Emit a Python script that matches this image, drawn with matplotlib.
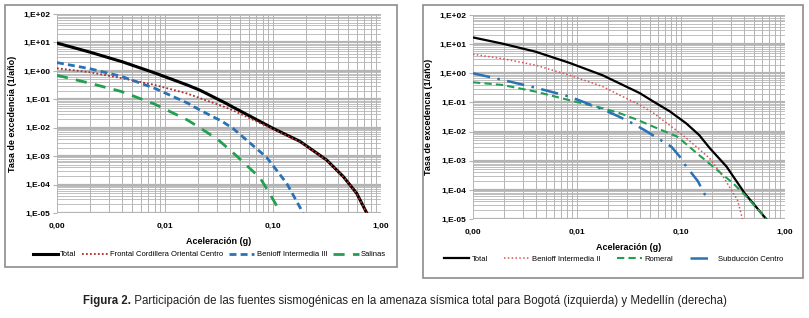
import matplotlib
matplotlib.use("Agg")
import matplotlib.pyplot as plt
from matplotlib.patches import Rectangle
from matplotlib.ticker import FixedLocator, LogLocator, NullFormatter

W, H = 809, 318
DPI = 100

GRID = "#b4b4b4"
BLACK = "#000000"
RED_L = "#b22b2b"
BLUE = "#2a72b8"
GREEN = "#22a050"
RED_R = "#e05050"

plt.rcParams["font.family"] = ["Liberation Sans Narrow", "Liberation Sans", "DejaVu Sans"]

# ── Bogotá (izquierda) ─────────────────────────────────────
bog_total_x = [0.001, 0.002, 0.004, 0.008, 0.016, 0.021, 0.036, 0.043, 0.1, 0.178, 0.314, 0.448, 0.596, 0.738]
bog_total_y = [9.5, 4.6, 2.1, 0.85, 0.32, 0.21, 0.075, 0.052, 0.0095, 0.0033, 7.3e-4, 1.9e-4, 4.9e-5, 1e-5]
bog_frontal_x = [0.001, 0.002, 0.004, 0.008, 0.016, 0.021, 0.036, 0.043, 0.076, 0.1, 0.178, 0.314, 0.448, 0.596, 0.738]
bog_frontal_y = [1.23, 0.9, 0.55, 0.32, 0.16, 0.11, 0.053, 0.04, 0.0145, 0.009, 0.0032, 7.2e-4, 1.88e-4, 4.85e-5, 1e-5]
bog_benioff_x = [0.001, 0.002, 0.004, 0.008, 0.016, 0.021, 0.0335, 0.043, 0.0875, 0.134, 0.19]
bog_benioff_y = [1.95, 1.2, 0.63, 0.245, 0.075, 0.042, 0.017, 0.0092, 9e-4, 1.1e-4, 1e-5]
bog_salinas_x = [0.001, 0.002, 0.004, 0.008, 0.016, 0.021, 0.031, 0.045, 0.076, 0.09, 0.105, 0.116]
bog_salinas_y = [0.7, 0.37, 0.185, 0.068, 0.019, 0.010, 0.0038, 1.1e-3, 1.7e-4, 6e-5, 2.2e-5, 1e-5]

# ── Medellín (derecha) ─────────────────────────────────────
med_total_x = [0.001, 0.0019, 0.004, 0.0084, 0.0177, 0.04, 0.0536, 0.0776, 0.1125, 0.15, 0.189, 0.274, 0.41, 0.66]
med_total_y = [17.0, 10.5, 5.5, 2.3, 0.85, 0.21, 0.11, 0.05, 0.019, 0.0075, 2.7e-3, 6.3e-4, 7.6e-5, 1e-5]
med_benioff_x = [0.001, 0.0019, 0.004, 0.0084, 0.0177, 0.0256, 0.0384, 0.0536, 0.1125, 0.189, 0.26, 0.35, 0.39]
med_benioff_y = [4.5, 3.2, 1.9, 0.87, 0.35, 0.18, 0.089, 0.045, 6e-3, 1.2e-3, 2.5e-4, 4.4e-5, 1e-5]
med_romeral_x = [0.001, 0.0019, 0.004, 0.0084, 0.0177, 0.0256, 0.0384, 0.0536, 0.093, 0.145, 0.203, 0.316, 0.427, 0.66]
med_romeral_y = [0.49, 0.40, 0.235, 0.12, 0.063, 0.043, 0.025, 0.015, 6.6e-3, 1.7e-3, 6.3e-4, 1.7e-4, 5.8e-5, 1e-5]
med_subd_x = [0.001, 0.0019, 0.004, 0.0084, 0.0177, 0.0256, 0.0344, 0.045, 0.0536, 0.081, 0.097, 0.107, 0.145, 0.178]
med_subd_y = [1.0, 0.6, 0.32, 0.16, 0.058, 0.032, 0.019, 0.011, 0.0075, 0.003, 1.4e-3, 8e-4, 2e-4, 5e-5]

x_ticks = [0.001, 0.01, 0.1, 1.0]
x_labels = ["0,00", "0,01", "0,10", "1,00"]
y_ticks = [1e-5, 1e-4, 1e-3, 1e-2, 1e-1, 1e0, 1e1, 1e2]
y_labels = ["1,E-05", "1,E-04", "1,E-03", "1,E-02", "1,E-01", "1,E+00", "1,E+01", "1,E+02"]


def px_axes(fig, x0, y0, x1, y1):
    return fig.add_axes([x0 / W, 1 - y1 / H, (x1 - x0) / W, (y1 - y0) / H])


def style_log(ax):
    ax.set_xscale("log"); ax.set_yscale("log")
    ax.set_xlim(0.001, 1.0); ax.set_ylim(1e-5, 1e2)
    ax.xaxis.set_major_locator(FixedLocator(x_ticks))
    ax.set_xticklabels(x_labels)
    ax.yaxis.set_major_locator(FixedLocator(y_ticks))
    ax.set_yticklabels(y_labels)
    ax.xaxis.set_minor_locator(LogLocator(base=10, subs=range(2, 10)))
    ax.yaxis.set_minor_locator(LogLocator(base=10, subs=range(2, 10)))
    ax.xaxis.set_minor_formatter(NullFormatter())
    ax.yaxis.set_minor_formatter(NullFormatter())
    ax.grid(True, axis="x", which="both", color=GRID, lw=0.7)
    ax.grid(True, axis="y", which="major", color=GRID, lw=1.6)
    ax.grid(True, axis="y", which="minor", color=GRID, lw=0.6)
    ax.set_axisbelow(True)
    for s in ax.spines.values():
        s.set_visible(False)
    ax.tick_params(which="minor", length=0)
    ax.tick_params(axis="x", which="major", length=0, labelsize=6, pad=7)
    ax.tick_params(axis="y", which="major", length=3, color=GRID, labelsize=6, pad=2)
    for lab in ax.get_xticklabels() + ax.get_yticklabels():
        lab.set_fontweight("bold")
    ax.set_xlabel("Aceleración (g)", fontsize=6.5, fontweight="bold", labelpad=5)
    ax.set_ylabel("Tasa de excedencia (1/año)", fontsize=6.5, fontweight="bold", labelpad=4)


fig = plt.figure(figsize=(W / DPI, H / DPI), dpi=DPI, facecolor="white")

# marcos exteriores
fig.patches.append(Rectangle((5 / W, 1 - 267 / H), 392 / W, 262 / H, transform=fig.transFigure,
                             fill=False, edgecolor="#8c8c8c", lw=1.2))
fig.patches.append(Rectangle((423 / W, 1 - 278 / H), 380 / W, 273 / H, transform=fig.transFigure,
                             fill=False, edgecolor="#8c8c8c", lw=1.2))

# ── izquierda ──
ax1 = px_axes(fig, 57, 14, 381, 213)
style_log(ax1)
ax1.plot(bog_total_x, bog_total_y, color=BLACK, lw=2.2, label="Total")
ax1.plot(bog_frontal_x, bog_frontal_y, color=RED_L, lw=1.3, ls=(0, (1, 1.2)),
         label="Frontal Cordillera Oriental Centro")
ax1.plot(bog_benioff_x, bog_benioff_y, color=BLUE, lw=2.0, ls=(0, (2.5, 1.5)),
         label="Benioff Intermedia III")
ax1.plot(bog_salinas_x, bog_salinas_y, color=GREEN, lw=2.0, ls=(0, (4, 3)), label="Salinas")
ax1.legend(loc="center", bbox_to_anchor=(0.47, -0.21), ncol=4, frameon=False,
           fontsize=5.5, handlelength=3.3, handletextpad=0.3, columnspacing=0.8,
           borderaxespad=0, borderpad=0)

# ── derecha ──
ax2 = px_axes(fig, 473, 15, 785, 219)
style_log(ax2)
ax2.plot(med_total_x, med_total_y, color=BLACK, lw=1.6, label="Total")
ax2.plot(med_benioff_x, med_benioff_y, color=RED_R, lw=1.1, ls=(0, (1, 1.5)),
         label="Benioff Intermedia II")
ax2.plot(med_romeral_x, med_romeral_y, color=GREEN, lw=1.5, ls=(0, (3.5, 2)), label="Romeral")
ax2.plot(med_subd_x, med_subd_y, color=BLUE, lw=1.8, ls=(0, (7, 3, 1, 3)),
         label="Subducción Centro")
ax2.legend(loc="center", bbox_to_anchor=(0.45, -0.197), ncol=4, frameon=False,
           fontsize=5.5, handlelength=3.3, handletextpad=0.3, columnspacing=2.2,
           borderaxespad=0, borderpad=0)

# pie de figura: parte en negrita + resto
cap_bold = "Figura 2."
cap_rest = (" Participación de las fuentes sismogénicas en la amenaza sísmica total "
            "para Bogotá (izquierda) y Medellín (derecha)")
cy = 1 - 301 / H
t1 = fig.text(0, cy, cap_bold, ha="left", va="center", fontsize=8.3, fontweight="bold", color="#222222")
t2 = fig.text(0, cy, cap_rest, ha="left", va="center", fontsize=8.3, color="#222222")
fig.canvas.draw()
r = fig.canvas.get_renderer()
w1 = t1.get_window_extent(r).width
w2 = t2.get_window_extent(r).width
x0 = (W - (w1 + w2)) / 2
t1.set_x(x0 / W)
t2.set_x((x0 + w1) / W)

fig.savefig("out.png", dpi=DPI, facecolor="white")
